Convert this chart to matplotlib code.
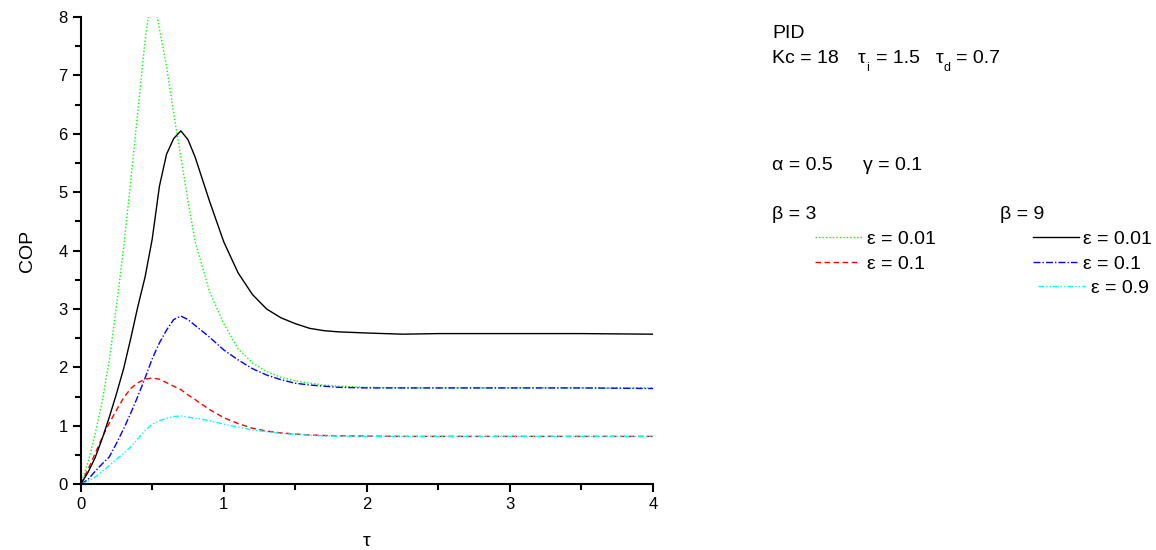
import matplotlib
matplotlib.use("Agg")
import matplotlib.pyplot as plt
from matplotlib.lines import Line2D
from matplotlib.ticker import MultipleLocator

plt.rcParams["font.family"] = ["Liberation Sans", "DejaVu Sans"]

W, H = 1156, 550

tau = [0, 0.05, 0.1, 0.15, 0.2, 0.25, 0.3, 0.35, 0.4, 0.45, 0.5, 0.55, 0.6,
       0.65, 0.7, 0.75, 0.8, 0.9, 1.0, 1.1, 1.2, 1.3, 1.4, 1.5, 1.6, 1.7,
       1.8, 2.0, 2.25, 2.5, 3.0, 3.5, 4.0]

# beta = 3
cop_b3_e001 = [0, 0.37, 0.85, 1.42, 2.13, 3.05, 4.05, 5.2, 6.4, 7.6, 8.5, 7.8,
               7.15, 6.35, 5.6, 4.85, 4.15, 3.3, 2.75, 2.32, 2.08, 1.93, 1.83,
               1.77, 1.73, 1.70, 1.68, 1.66, 1.65, 1.65, 1.65, 1.65, 1.65]
cop_b3_e01 = [0, 0.25, 0.52, 0.8, 1.05, 1.27, 1.48, 1.64, 1.74, 1.8, 1.82, 1.8,
              1.74, 1.68, 1.62, 1.53, 1.45, 1.28, 1.14, 1.04, 0.96, 0.91, 0.88,
              0.86, 0.845, 0.835, 0.83, 0.825, 0.82, 0.82, 0.82, 0.82, 0.82]
# beta = 9
cop_b9_e001 = [0, 0.2, 0.45, 0.78, 1.15, 1.55, 1.98, 2.5, 3.05, 3.55, 4.2, 5.1,
               5.65, 5.92, 6.05, 5.9, 5.6, 4.85, 4.15, 3.62, 3.25, 3.0, 2.85,
               2.75, 2.67, 2.63, 2.61, 2.59, 2.57, 2.58, 2.58, 2.58, 2.57]
cop_b9_e01 = [0, 0.08, 0.22, 0.35, 0.47, 0.7, 0.95, 1.22, 1.51, 1.82, 2.15,
              2.42, 2.64, 2.82, 2.88, 2.82, 2.72, 2.52, 2.3, 2.13, 1.98, 1.87,
              1.79, 1.73, 1.7, 1.68, 1.66, 1.65, 1.65, 1.65, 1.65, 1.65, 1.64]
cop_b9_e09 = [0, 0.05, 0.12, 0.22, 0.32, 0.43, 0.53, 0.64, 0.78, 0.92, 1.03,
              1.09, 1.13, 1.16, 1.17, 1.15, 1.13, 1.09, 1.03, 0.98, 0.93, 0.9,
              0.87, 0.855, 0.84, 0.83, 0.825, 0.82, 0.82, 0.82, 0.82, 0.82, 0.82]

styles = {
    "b3_e001": dict(color="#00ff00", ls=(0, (1, 1.5))),
    "b3_e01": dict(color="#ff0000", ls=(0, (4, 2.5))),
    "b9_e001": dict(color="black", ls="-"),
    "b9_e01": dict(color="#0000ff", ls=(0, (5, 1.5, 1, 1.5))),
    "b9_e09": dict(color="#00ffff", ls=(0, (4, 1.5, 1, 1.5, 1, 1.5))),
}

fig = plt.figure(figsize=(W / 100, H / 100), dpi=100)
ax = fig.add_axes([80.7 / W, 1 - 484.3 / H, (653 - 80.7) / W, (484.3 - 17) / H])

ax.plot(tau, cop_b3_e001, lw=1, **styles["b3_e001"])
ax.plot(tau, cop_b3_e01, lw=1, **styles["b3_e01"])
ax.plot(tau, cop_b9_e001, lw=1, **styles["b9_e001"])
ax.plot(tau, cop_b9_e01, lw=1, **styles["b9_e01"])
ax.plot(tau, cop_b9_e09, lw=1, **styles["b9_e09"])

ax.set_xlim(0, 4)
ax.set_ylim(0, 8)
ax.xaxis.set_major_locator(MultipleLocator(1))
ax.xaxis.set_minor_locator(MultipleLocator(0.5))
ax.yaxis.set_major_locator(MultipleLocator(1))
ax.yaxis.set_minor_locator(MultipleLocator(0.5))
for s in ["top", "right"]:
    ax.spines[s].set_visible(False)
for s in ["left", "bottom"]:
    ax.spines[s].set_linewidth(1.5)
ax.tick_params(which="major", direction="out", length=6, width=1.5, labelsize=12)
ax.tick_params(which="minor", direction="out", length=4, width=1.5)
ax.set_xlabel("τ", fontsize=14, labelpad=15)
ax.set_ylabel("COP", fontsize=14, labelpad=16)


def ftext(x, y, s, size=14):
    fig.text(x / W, 1 - y / H, s, fontsize=size, va="baseline", ha="left")


def fline(x0, x1, y, key):
    fig.add_artist(Line2D([x0 / W, x1 / W], [1 - y / H, 1 - y / H],
                          transform=fig.transFigure, lw=1, **styles[key]))


ftext(772, 38, "PID")
ftext(772, 63, "Kc = 18")
ftext(858, 63, "τ")
ftext(866, 71, "i", size=9)
ftext(876, 63, "= 1.5")
ftext(936, 63, "τ")
ftext(944, 71, "d", size=9)
ftext(956, 63, "= 0.7")
ftext(772, 170, "α = 0.5")
ftext(863, 170, "γ = 0.1")
ftext(772, 219, "β = 3")
ftext(1000, 219, "β = 9")

fline(815, 862, 237, "b3_e001")
ftext(867, 244, "ε = 0.01")
fline(815, 860, 262, "b3_e01")
ftext(867, 269, "ε = 0.1")
fline(1033, 1079, 237, "b9_e001")
ftext(1083, 244, "ε = 0.01")
fline(1033, 1077, 262, "b9_e01")
ftext(1083, 269, "ε = 0.1")
fline(1038, 1085, 286, "b9_e09")
ftext(1091, 293, "ε = 0.9")

fig.savefig("out.png", dpi=100, facecolor="white")
